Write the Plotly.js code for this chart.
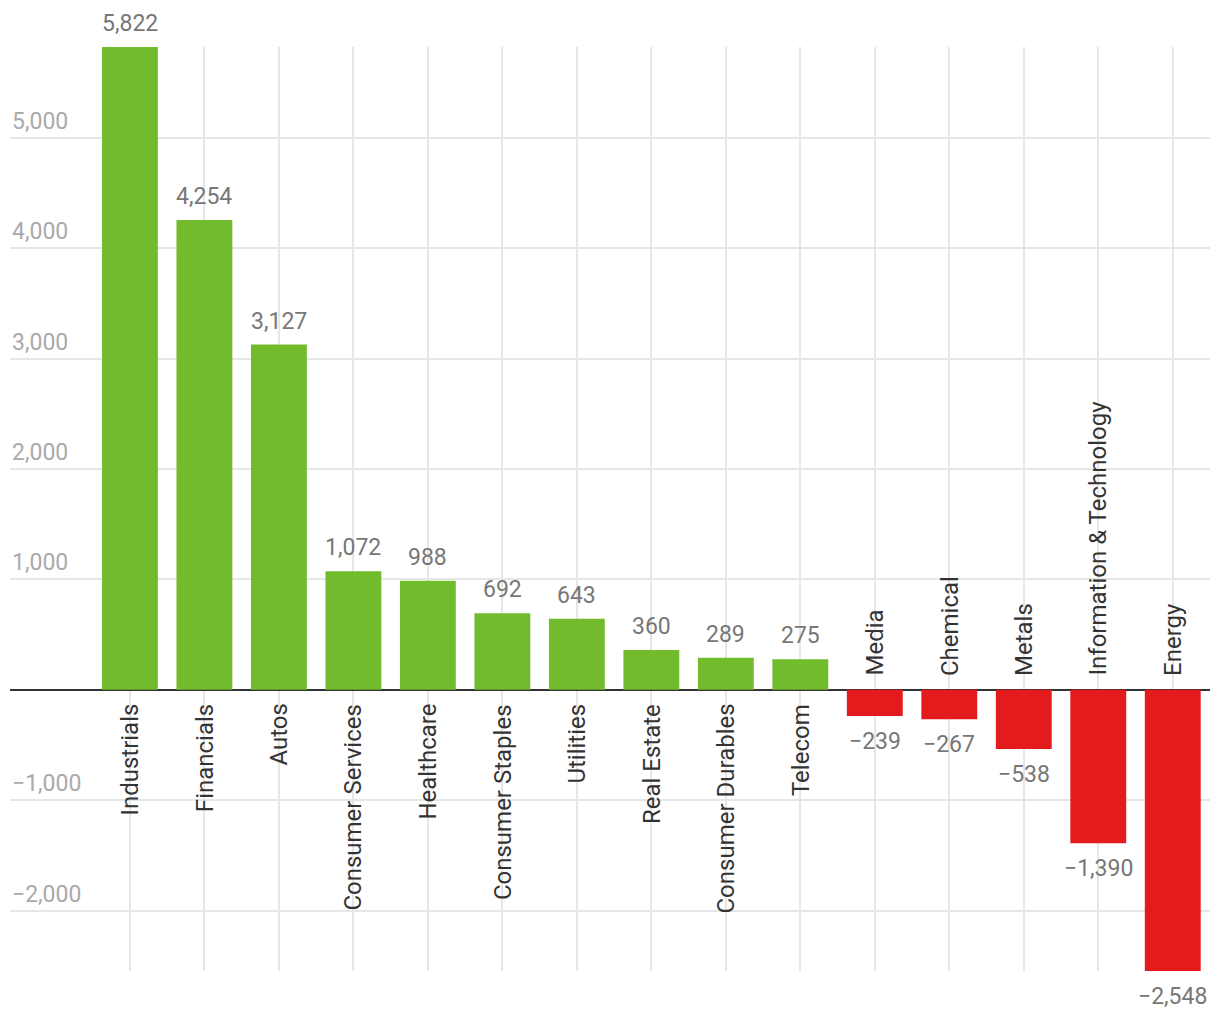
<!DOCTYPE html>
<html>
<head>
<meta charset="utf-8">
<script src="https://cdn.plot.ly/plotly-3.0.1.min.js"></script>
<style>
html,body{margin:0;padding:0;background:#fff;}
#chart{width:1220px;height:1020px;}
</style>
</head>
<body>
<div id="chart"></div>
<script>
var categories = ["Industrials","Financials","Autos","Consumer Services","Healthcare","Consumer Staples","Utilities","Real Estate","Consumer Durables","Telecom","Media","Chemical","Metals","Information & Technology","Energy"];
var values = [5822,4254,3127,1072,988,692,643,360,289,275,-239,-267,-538,-1390,-2548];
var yTickValues = [-2000,-1000,1000,2000,3000,4000,5000];

var GREEN = "#71bb2c", RED = "#e31b1d";
function fmt(v){ return (v < 0 ? "\u2212" : "") + Math.abs(v).toLocaleString("en-US"); }

var trace = {
  type: "bar",
  x: categories,
  y: values,
  marker: {color: values.map(function(v){ return v >= 0 ? GREEN : RED; })},
  hoverinfo: "x+y"
};

var annotations = [];
// y tick labels above gridlines
yTickValues.forEach(function(t){
  annotations.push({xref:"paper", yref:"y", x:0, y:t, text:fmt(t), showarrow:false,
    xanchor:"left", yanchor:"bottom", yshift:1,
    font:{family:"Roboto", size:23, color:"#aaaaaa"}});
});
// category labels and value labels
categories.forEach(function(c,i){
  var pos = values[i] >= 0;
  annotations.push({xref:"x", yref:"y", x:c, y:0, text:c, showarrow:false, textangle:-90,
    xanchor:"center", yanchor: pos ? "top" : "bottom", yshift: pos ? -12 : 12,
    font:{family:"Roboto", size:24, color:"#333333"}});
  annotations.push({xref:"x", yref:"y", x:c, y:values[i], text:fmt(values[i]), showarrow:false,
    xanchor:"center", yanchor: pos ? "bottom" : "top", yshift: pos ? 8 : -10,
    font:{family:"Roboto", size:23, color:"#777777"}});
});

var layout = {
  width:1220, height:1020,
  margin:{l:10, r:10, t:47, b:49},
  paper_bgcolor:"#fff", plot_bgcolor:"#fff",
  bargap:0.25,
  showlegend:false,
  font:{family:"Roboto", size:22, color:"#777"},
  xaxis:{
    type:"category",
    range:[-1.61, 14.5],
    showgrid:true, gridcolor:"#e6e6e6", gridwidth:2,
    showticklabels:false, ticks:"", zeroline:false, showline:false, fixedrange:true
  },
  yaxis:{
    range:[-2548, 5822],
    tickvals:[-2000,-1000,0,1000,2000,3000,4000,5000],
    showticklabels:false, ticks:"",
    showgrid:true, gridcolor:"#e6e6e6", gridwidth:2,
    zeroline:true, zerolinecolor:"#333333", zerolinewidth:2,
    showline:false, fixedrange:true
  },
  annotations: annotations
};

Plotly.newPlot("chart", [trace], layout, {displayModeBar:false, staticPlot:true});
</script>
</body>
</html>
